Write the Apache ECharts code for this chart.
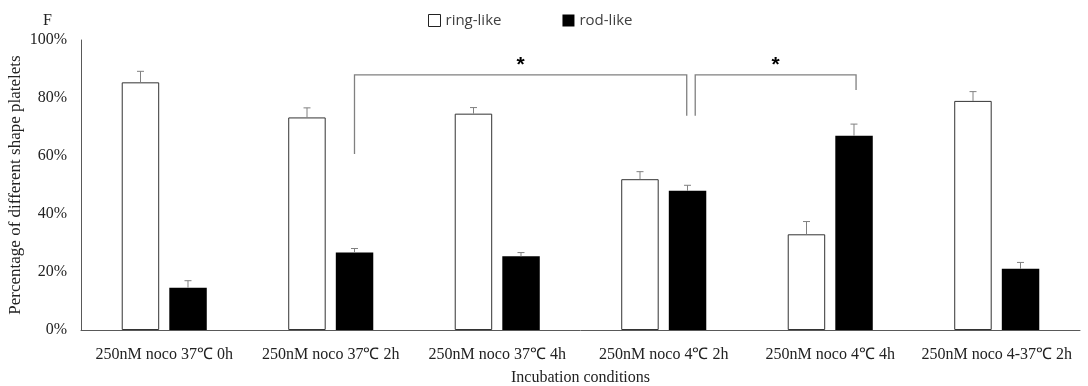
<!DOCTYPE html>
<html>
<head>
<meta charset="utf-8">
<script src="https://cdn.jsdelivr.net/npm/echarts@6/dist/echarts.min.js"></script>
<style>html,body{margin:0;padding:0;background:#fff}#c{width:1088px;height:386px}</style>
</head>
<body>
<div id="c"></div>
<script>
const categories = ['250nM noco 37℃ 0h', '250nM noco 37℃ 2h', '250nM noco 37℃ 4h', '250nM noco 4℃ 2h', '250nM noco 4℃ 4h', '250nM noco 4-37℃ 2h'];
const ringLike = [85.4, 73.3, 74.6, 52.0, 33.0, 79.0];
const ringErr = [3.8, 3.3, 2.1, 2.6, 4.4, 3.2];
const rodLike = [14.6, 26.7, 25.4, 48.0, 67.0, 21.1];
const rodErr = [2.4, 1.4, 1.3, 1.9, 4.0, 2.2];
const yTicks = [0, 20, 40, 60, 80, 100];
// significance brackets: [leftCat, leftShift, leftBottom, rightCat, rightShift, rightBottom, top]
const bracket1 = [1, 0.1426, 60.7, 3, 0.138, 73.9, 88];
const bracket2 = [3, 0.189, 73.9, 4, 0.155, 82.8, 88];

const BAR_W = 0.225, SHIFT = 0.1426;
const SERIF = '"Liberation Serif", "Times New Roman", serif';
const chart = echarts.init(document.getElementById('c'));

function errRender(sign) {
  return function (params, api) {
    const i = api.value(0), v = api.value(1), e = api.value(2);
    const cw = api.size([1, 0])[0];
    const base = api.coord([i, v]);
    const topP = api.coord([i, v + e]);
    const x = base[0] + sign * SHIFT * cw;
    return {
      type: 'group',
      children: [
        { type: 'line', shape: { x1: x, y1: base[1], x2: x, y2: topP[1] }, style: { stroke: '#808080', lineWidth: 1 } },
        { type: 'line', shape: { x1: x - 3.5, y1: topP[1], x2: x + 3.5, y2: topP[1] }, style: { stroke: '#808080', lineWidth: 1 } }
      ]
    };
  };
}

function bracketRender(params, api) {
  const b = params.dataIndex === 0 ? bracket1 : bracket2;
  const cw = api.size([1, 0])[0];
  const l = api.coord([b[0], b[2]]);
  const r = api.coord([b[3], b[5]]);
  const t = api.coord([b[0], b[6]]);
  const xl = l[0] + b[1] * cw, xr = r[0] + b[4] * cw;
  return {
    type: 'group',
    children: [
      { type: 'polyline', shape: { points: [[xl, l[1]], [xl, t[1]], [xr, t[1]], [xr, r[1]]] }, style: { stroke: '#808080', lineWidth: 1.3, fill: null } },
      { type: 'text', x: (xl + xr) / 2, y: t[1] + 1, style: { text: '*', font: 'bold 21px "Liberation Sans", sans-serif', fill: '#000', align: 'center', verticalAlign: 'bottom' } }
    ]
  };
}

chart.setOption({
  animation: false,
  backgroundColor: '#fff',
  title: { text: 'F', left: 38, top: 8, textStyle: { fontFamily: SERIF, fontSize: 16, fontWeight: 'normal', color: '#222' } },
  legend: {
    data: [
      { name: 'ring-like', itemStyle: { color: '#fff', borderColor: '#222', borderWidth: 1 } },
      { name: 'rod-like', itemStyle: { color: '#000' } }
    ],
    left: 423, top: 8, itemGap: 61, itemWidth: 12, itemHeight: 12, icon: 'rect',
    textStyle: { fontFamily: 'Open Sans', fontSize: 15, color: '#404040' }
  },
  grid: { left: 81, right: 8, top: 40, bottom: 56, containLabel: false, outerBoundsMode: 'none' },
  xAxis: {
    type: 'category', data: categories,
    name: 'Incubation conditions', nameLocation: 'middle', nameGap: 40,
    nameTextStyle: { fontFamily: SERIF, fontSize: 16, color: '#222' },
    axisLine: { lineStyle: { color: '#595959', width: 1 } },
    axisTick: { show: false },
    axisLabel: { fontFamily: SERIF, fontSize: 16, color: '#222', margin: 17, interval: 0 }
  },
  yAxis: {
    type: 'value', min: yTicks[0], max: yTicks[yTicks.length - 1], interval: 20,
    name: 'Percentage of different shape platelets', nameLocation: 'middle', nameGap: 57, nameRotate: 90,
    nameMoveOverlap: false,
    nameTextStyle: { fontFamily: SERIF, fontSize: 17, color: '#222' },
    axisLine: { show: true, lineStyle: { color: '#595959', width: 1 } },
    axisTick: { show: false },
    splitLine: { show: false },
    axisLabel: { formatter: '{value}%', fontFamily: SERIF, fontSize: 16, color: '#222', margin: 14 }
  },
  series: [
    { name: 'ring-like', type: 'bar', data: ringLike, barWidth: (BAR_W * 100) + '%', barGap: '27%',
      itemStyle: { color: '#fff', borderColor: '#333', borderWidth: 1 } },
    { name: 'rod-like', type: 'bar', data: rodLike, barWidth: (BAR_W * 100) + '%',
      itemStyle: { color: '#000' } },
    { type: 'custom', name: 'ringErr', data: ringLike.map((v, i) => [i, v, ringErr[i]]), renderItem: errRender(-1), z: 5, silent: true },
    { type: 'custom', name: 'rodErr', data: rodLike.map((v, i) => [i, v, rodErr[i]]), renderItem: errRender(1), z: 5, silent: true },
    { type: 'custom', name: 'brackets', data: [[bracket1[0], bracket1[6]], [bracket2[0], bracket2[6]]], renderItem: bracketRender, z: 6, silent: true, clip: false }
  ]
});
</script>
</body>
</html>
